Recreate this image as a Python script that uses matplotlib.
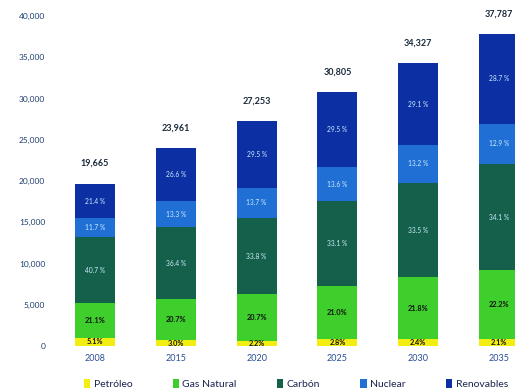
import matplotlib
matplotlib.use("Agg")
import matplotlib.pyplot as plt
import numpy as np
from matplotlib.patches import Patch

plt.rcParams['font.family'] = ['Lato', 'DejaVu Sans']

years = ["2008", "2015", "2020", "2025", "2030", "2035"]
totals = [19665, 23961, 27253, 30805, 34327, 37787]
categories = ["Petróleo", "Gas Natural", "Carbón", "Nuclear", "Renovables"]
petroleo = [5.1, 3.0, 2.2, 2.8, 2.4, 2.1]
gas_natural = [21.1, 20.7, 20.7, 21.0, 21.8, 22.2]
carbon = [40.7, 36.4, 33.8, 33.1, 33.5, 34.1]
nuclear = [11.7, 13.3, 13.7, 13.6, 13.2, 12.9]
renovables = [21.4, 26.6, 29.5, 29.5, 29.1, 28.7]
yticks = [0, 5000, 10000, 15000, 20000, 25000, 30000, 35000, 40000]

series = [petroleo, gas_natural, carbon, nuclear, renovables]
colors = ["#f2ee12", "#3fcf2c", "#14604a", "#1f6fd4", "#0c2fa3"]
label_colors = ["#111111", "#111111", "#cdeeff", "#cdeeff", "#cdeeff"]

W, H = 515, 392
fig = plt.figure(figsize=(W / 100, H / 100), dpi=100)
ax_left, ax_right, ax_top, ax_bot = 55, 515, 16, 346
ax = fig.add_axes([ax_left / W, (H - ax_bot) / H, (ax_right - ax_left) / W, (ax_bot - ax_top) / H])

x = np.arange(len(years))
tot = np.array(totals, dtype=float)
pct = np.array(series, dtype=float)
share = pct / pct.sum(axis=0)
bottom = np.zeros(len(years))
width = 0.495
for k, name in enumerate(categories):
    h = tot * share[k]
    ax.bar(x, h, width, bottom=bottom, color=colors[k], label=name, linewidth=0)
    for i in range(len(years)):
        if k < 2:
            txt = f"{pct[k][i]:.1f}%"
            ax.text(x[i], bottom[i] + h[i] / 2, txt, ha='center', va='center',
                    fontsize=5.3, fontweight='bold', color=label_colors[k])
        else:
            txt = f"{pct[k][i]:.1f} %"
            ax.text(x[i], bottom[i] + h[i] / 2, txt, ha='center', va='center',
                    fontsize=4.8, color=label_colors[k])
    bottom = bottom + h

for i in range(len(years)):
    ax.annotate(f"{totals[i]:,}", (x[i], tot[i]), xytext=(0, 14.5), textcoords='offset points',
                ha='center', va='center', fontsize=6.5, fontweight='bold', color='#1a2a3a',
                annotation_clip=False)

ax.set_xlim(-0.495, 5.198)
ax.set_ylim(0, 40000)
ax.set_yticks(yticks)
ax.set_yticklabels([f"{v:,}" for v in yticks], fontsize=6, color='#1d3f6e')
ax.set_xticks(x)
ax.set_xticklabels(years, fontsize=6.5, color='#2a4c95')
ax.tick_params(axis='y', length=0, pad=7)
ax.tick_params(axis='x', length=0, pad=6)
for s in ax.spines.values():
    s.set_visible(False)

handles = [Patch(facecolor=c, edgecolor='none') for c in colors]
leg = fig.legend(handles, categories, loc='center', bbox_to_anchor=(296 / W, (H - 384) / H),
                 ncol=5, frameon=False, fontsize=7.5, handlelength=0.6, handleheight=1.0,
                 handletextpad=0.35, columnspacing=3.85)
for t in leg.get_texts():
    t.set_color('#1a2550')

fig.savefig("out.png", dpi=100)
